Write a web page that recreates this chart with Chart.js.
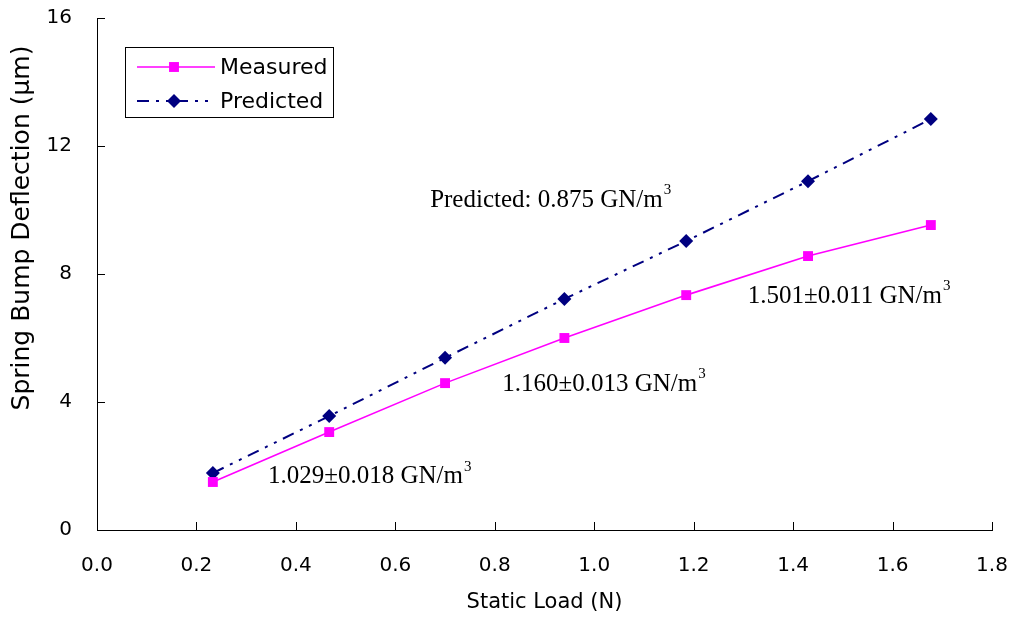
<!DOCTYPE html>
<html>
<head>
<meta charset="utf-8">
<script src="https://cdn.jsdelivr.net/npm/chart.js@4/dist/chart.umd.min.js"></script>
<style>
  html, body { margin: 0; padding: 0; background: #fff; }
</style>
</head>
<body>
<canvas id="chart" width="1011" height="617"></canvas>
<script>
// static load (N) and spring bump deflection (um)
const loads = [0.233, 0.467, 0.700, 0.940, 1.185, 1.430, 1.677];
const measured = [1.50, 3.06, 4.59, 6.00, 7.34, 8.56, 9.53];
const predicted = [1.78, 3.56, 5.38, 7.22, 9.03, 10.90, 12.84];
const seriesNames = ['Measured', 'Predicted'];

// stiffness notes, anchored in data units (left edge, middle of text)
const noteTexts = ['Predicted: 0.875 GN/m', '1.029\u00b10.018 GN/m', '1.160\u00b10.013 GN/m', '1.501\u00b10.011 GN/m'];
const noteX = [0.670, 0.344, 0.815, 1.309];
const noteY = [10.3, 1.66, 4.56, 7.31];

const sansFont = '"DejaVu Sans", Verdana, sans-serif';
const serifFont = '"Liberation Serif", "Times New Roman", serif';

const toPoints = ys => loads.map((x, i) => ({ x: x, y: ys[i] }));

// keep the plot area where the original has it, labels may hang out
const noLabelPadding = scale => {
  scale.paddingTop = 0;
  scale.paddingBottom = 0;
  scale.paddingLeft = 0;
  scale.paddingRight = 0;
};

// draws ticks pointing into the plot, like the original
const innerTicks = {
  id: 'innerTicks',
  afterDatasetsDraw(chart) {
    const { ctx, scales: { x, y } } = chart;
    ctx.save();
    ctx.strokeStyle = '#000';
    ctx.lineWidth = 1;
    ctx.beginPath();
    x.ticks.forEach((t, i) => {
      const px = Math.round(x.getPixelForTick(i)) + 0.5;
      ctx.moveTo(px, x.top);
      ctx.lineTo(px, x.top - 8);
    });
    y.ticks.forEach((t, i) => {
      const py = Math.round(y.getPixelForTick(i)) + 0.5;
      ctx.moveTo(y.right, py);
      ctx.lineTo(y.right + 8, py);
    });
    ctx.stroke();

    // y title sits a bit above the middle in the original
    ctx.fillStyle = '#000';
    ctx.font = '25px ' + sansFont;
    ctx.textAlign = 'center';
    ctx.textBaseline = 'middle';
    ctx.translate(22, (y.top + y.bottom) / 2 - 46);
    ctx.rotate(-Math.PI / 2);
    ctx.fillText('Spring Bump Deflection (\u00b5m)', 0, 0);
    ctx.restore();
  }
};

// text notes with a superscript 3
const notes = {
  id: 'notes',
  afterDatasetsDraw(chart) {
    const { ctx, scales: { x, y } } = chart;
    ctx.save();
    ctx.fillStyle = '#000';
    ctx.textBaseline = 'middle';
    noteTexts.forEach((txt, i) => {
      const px = x.getPixelForValue(noteX[i]);
      const py = y.getPixelForValue(noteY[i]);
      ctx.font = '25px ' + serifFont;
      ctx.fillText(txt, px, py);
      const w = ctx.measureText(txt).width;
      ctx.font = '15px ' + serifFont;
      ctx.fillText('3', px + w + 1, py - 10);
    });
    ctx.restore();
  }
};

// boxed legend inside the plot area
const boxLegend = {
  id: 'boxLegend',
  afterDraw(chart) {
    const { ctx } = chart;
    const left = 125, top = 47, w = 208, h = 70;
    ctx.save();
    ctx.strokeStyle = '#000';
    ctx.lineWidth = 1;
    ctx.strokeRect(left + 0.5, top + 0.5, w, h);
    chart.data.datasets.forEach((ds, i) => {
      const cy = top + 20 + i * 34;
      ctx.strokeStyle = ds.borderColor;
      ctx.lineWidth = ds.borderWidth;
      ctx.setLineDash(ds.borderDash || []);
      ctx.beginPath();
      ctx.moveTo(left + 12, cy);
      ctx.lineTo(left + 90, cy);
      ctx.stroke();
      ctx.setLineDash([]);
      ctx.fillStyle = ds.pointBackgroundColor;
      Chart.helpers.drawPoint(ctx, {
        pointStyle: ds.pointStyle,
        radius: ds.pointRadius,
        borderWidth: 0,
        rotation: 0
      }, left + 49, cy);
      ctx.fillStyle = '#000';
      ctx.font = '22px ' + sansFont;
      ctx.textBaseline = 'middle';
      ctx.fillText(ds.label, left + 95, cy + 1);
    });
    ctx.restore();
  }
};

new Chart(document.getElementById('chart'), {
  type: 'scatter',
  data: {
    datasets: [
      {
        label: seriesNames[0],
        data: toPoints(measured),
        showLine: true,
        borderColor: '#FF00FF',
        backgroundColor: '#FF00FF',
        pointBackgroundColor: '#FF00FF',
        pointBorderWidth: 0,
        borderWidth: 1.6,
        pointStyle: 'rect',
        pointRadius: 7,
        pointHoverRadius: 7
      },
      {
        label: seriesNames[1],
        data: toPoints(predicted),
        showLine: true,
        borderColor: '#000080',
        backgroundColor: '#000080',
        pointBackgroundColor: '#000080',
        pointBorderWidth: 0,
        borderWidth: 2,
        borderDash: [12, 7, 3, 7, 3, 7],
        pointStyle: 'rectRot',
        pointRadius: 7,
        pointHoverRadius: 7
      }
    ]
  },
  options: {
    responsive: false,
    animation: false,
    layout: { padding: { top: 18, right: 19, left: 0, bottom: 0 } },
    plugins: {
      legend: { display: false },
      tooltip: { enabled: false }
    },
    scales: {
      x: {
        type: 'linear',
        min: 0,
        max: 1.8,
        afterFit(scale) {
          scale.height = 87;
          noLabelPadding(scale);
        },
        grid: { display: false, drawTicks: false },
        border: { display: true, color: '#000', width: 1 },
        ticks: {
          stepSize: 0.2,
          padding: 24,
          color: '#000',
          font: { family: sansFont, size: 20 },
          callback: v => v.toFixed(1)
        },
        title: {
          display: true,
          text: 'Static Load (N)',
          color: '#000',
          padding: { top: 0, bottom: 2 },
          font: { family: sansFont, size: 21 }
        }
      },
      y: {
        min: 0,
        max: 16,
        afterFit(scale) {
          scale.width = 97;
          noLabelPadding(scale);
        },
        grid: { display: false, drawTicks: false },
        border: { display: true, color: '#000', width: 1 },
        ticks: {
          stepSize: 4,
          padding: 25,
          color: '#000',
          font: { family: sansFont, size: 20 }
        }
      }
    }
  },
  plugins: [innerTicks, notes, boxLegend]
});
</script>
</body>
</html>
